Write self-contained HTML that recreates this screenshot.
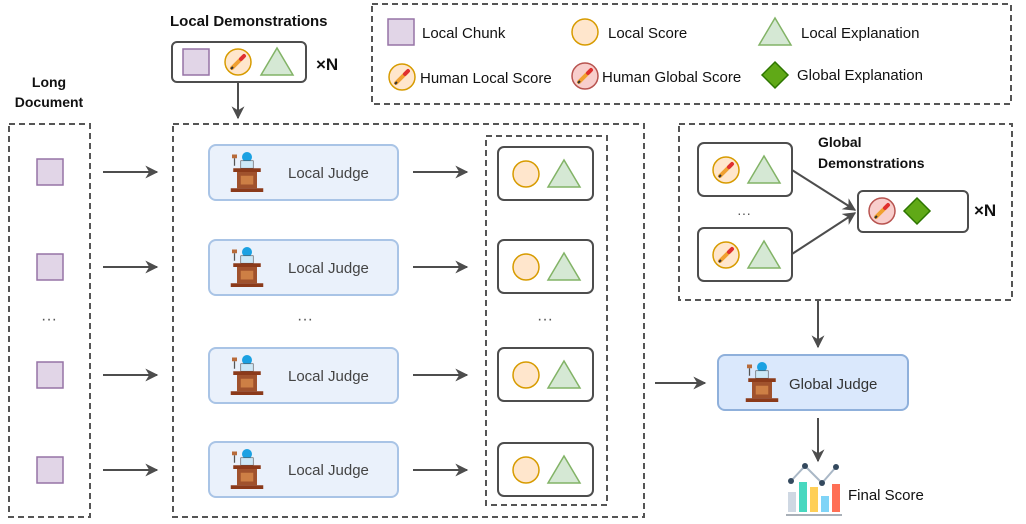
<!DOCTYPE html>
<html><head><meta charset="utf-8"><style>
html,body{margin:0;padding:0;background:#fff;width:1026px;height:524px;overflow:hidden}
text{font-family:"Liberation Sans",sans-serif}
</style></head><body>
<svg width="1026" height="524" viewBox="0 0 1026 524" xmlns="http://www.w3.org/2000/svg">
<defs>
<marker id="ah" viewBox="0 0 10 10" refX="9" refY="5" markerWidth="13" markerHeight="13" orient="auto-start-reverse" markerUnits="userSpaceOnUse"><path d="M0,0 L10,5 L0,10 L3,5 z" fill="#4d4d4d"/></marker>
<g id="sq"><rect x="-13" y="-13" width="26" height="26" fill="#e1d5e7" stroke="#9673a6" stroke-width="1.5"/></g>
<g id="ci"><circle r="13" fill="#ffe6cc" stroke="#d79b00" stroke-width="1.5"/></g>
<g id="tr"><path d="M-16,13 L0,-14 L16,13 Z" fill="#d5e8d4" stroke="#82b366" stroke-width="1.5"/></g>
<g id="pen"><line x1="-6" y1="6" x2="5" y2="-5" stroke="#f0a030" stroke-width="4" stroke-linecap="round"/><line x1="3" y1="-3" x2="6" y2="-6" stroke="#e03030" stroke-width="4" stroke-linecap="round"/><line x1="-7" y1="7" x2="-5" y2="5" stroke="#333" stroke-width="2"/></g>
<g id="hl"><circle r="13" fill="#ffe6cc" stroke="#d79b00" stroke-width="1.5"/><use href="#pen"/></g>
<g id="hg"><circle r="13" fill="#f8cecc" stroke="#b85450" stroke-width="1.5"/><use href="#pen"/></g>
<g id="di"><path d="M0,-13 L13,0 L0,13 L-13,0 Z" fill="#60a917" stroke="#2d7600" stroke-width="1.5"/></g>
<g id="judge0"><rect x="-4" y="-16" width="8" height="8" rx="4" fill="#1ba1e2"/><rect x="-5" y="-9" width="10" height="6" fill="#cde8f6" stroke="#555" stroke-width=".5"/><rect x="-12" y="-14" width="4" height="3" fill="#b86b3a"/><line x1="-10" y1="-11" x2="-10" y2="-5" stroke="#555"/><rect x="-11" y="-3" width="22" height="3" fill="#8b3a1a"/><rect x="-8" y="0" width="16" height="13" fill="#a0522d"/><rect x="-5" y="3" width="10" height="7" fill="#cd7f45"/><rect x="-13" y="13" width="26" height="3" fill="#8b3a1a"/></g>
<g id="judge"><g transform="scale(1.25)"><use href="#judge0"/></g></g>
<g id="lj"><rect x="0" y="0" width="189" height="55" rx="7" fill="#eaf1fb" stroke="#a9c4e6" stroke-width="2"/><use href="#judge" x="38" y="27"/><text x="79" y="33" font-size="15" fill="#444">Local Judge</text></g>
<g id="res"><rect x="0" y="0" width="95" height="53" rx="6" fill="#fff" stroke="#4d4d4d" stroke-width="2"/><use href="#ci" x="28" y="27"/><use href="#tr" x="66" y="27"/></g>
<g id="gd"><rect x="0" y="0" width="94" height="53" rx="6" fill="#fff" stroke="#4d4d4d" stroke-width="2"/><use href="#hl" x="28" y="27"/><use href="#tr" x="66" y="27"/></g>
</defs>

<rect x="372" y="4" width="639" height="100" fill="none" stroke="#555" stroke-width="2" stroke-dasharray="6,4"/>
<use href="#sq" x="401" y="32"/><text x="422" y="38" font-size="15" fill="#111">Local Chunk</text>
<use href="#ci" x="585" y="32"/><text x="608" y="38" font-size="15" fill="#111">Local Score</text>
<use href="#tr" x="775" y="32"/><text x="801" y="38" font-size="15" fill="#111">Local Explanation</text>
<use href="#hl" x="402" y="77"/><text x="420" y="83" font-size="15" fill="#111">Human Local Score</text>
<use href="#hg" x="585" y="76"/><text x="602" y="82" font-size="15" fill="#111">Human Global Score</text>
<use href="#di" x="775" y="75"/><text x="797" y="80" font-size="15" fill="#111">Global Explanation</text>

<text x="170" y="26" font-size="15" font-weight="bold" fill="#111">Local Demonstrations</text>
<rect x="172" y="42" width="134" height="40" rx="5" fill="#fff" stroke="#4d4d4d" stroke-width="2"/>
<use href="#sq" x="196" y="62"/><use href="#hl" x="238" y="62"/><use href="#tr" x="277" y="62"/>
<text x="316" y="70" font-size="17" font-weight="bold" fill="#111">×N</text>
<line x1="238" y1="82" x2="238" y2="118" stroke="#4d4d4d" stroke-width="2" marker-end="url(#ah)"/>

<text x="49" y="87" font-size="14" font-weight="bold" fill="#111" text-anchor="middle">Long</text>
<text x="49" y="107" font-size="14" font-weight="bold" fill="#111" text-anchor="middle">Document</text>
<rect x="9" y="124" width="81" height="393" fill="none" stroke="#555" stroke-width="2" stroke-dasharray="6,4"/>
<use href="#sq" x="50" y="172"/><use href="#sq" x="50" y="267"/><use href="#sq" x="50" y="375"/><use href="#sq" x="50" y="470"/>
<text x="49" y="324" font-size="16" fill="#555" text-anchor="middle">···</text>

<g stroke="#4d4d4d" stroke-width="2" marker-end="url(#ah)">
<line x1="103" y1="172" x2="157" y2="172"/><line x1="103" y1="267" x2="157" y2="267"/>
<line x1="103" y1="375" x2="157" y2="375"/><line x1="103" y1="470" x2="157" y2="470"/>
<line x1="413" y1="172" x2="467" y2="172"/><line x1="413" y1="267" x2="467" y2="267"/>
<line x1="413" y1="375" x2="467" y2="375"/><line x1="413" y1="470" x2="467" y2="470"/>
<line x1="655" y1="383" x2="705" y2="383"/>
<line x1="818" y1="301" x2="818" y2="347"/>
<line x1="818" y1="418" x2="818" y2="461"/>
<line x1="792" y1="170" x2="855" y2="210"/>
<line x1="792" y1="254" x2="855" y2="213"/>
</g>

<rect x="173" y="124" width="471" height="393" fill="none" stroke="#555" stroke-width="2" stroke-dasharray="6,4"/>
<use href="#lj" x="209" y="145"/><use href="#lj" x="209" y="240"/><use href="#lj" x="209" y="348"/><use href="#lj" x="209" y="442"/>
<text x="305" y="324" font-size="16" fill="#555" text-anchor="middle">···</text>
<rect x="486" y="136" width="121" height="369" fill="none" stroke="#555" stroke-width="2" stroke-dasharray="6,4"/>
<use href="#res" x="498" y="147"/><use href="#res" x="498" y="240"/><use href="#res" x="498" y="348"/><use href="#res" x="498" y="443"/>
<text x="545" y="324" font-size="16" fill="#555" text-anchor="middle">···</text>

<rect x="679" y="124" width="333" height="176" fill="none" stroke="#555" stroke-width="2" stroke-dasharray="6,4"/>
<text x="818" y="147" font-size="14" font-weight="bold" fill="#111">Global</text>
<text x="818" y="168" font-size="14" font-weight="bold" fill="#111">Demonstrations</text>
<use href="#gd" x="698" y="143"/><use href="#gd" x="698" y="228"/>
<text x="744" y="218" font-size="14" fill="#555" text-anchor="middle">···</text>
<rect x="858" y="191" width="110" height="41" rx="5" fill="#fff" stroke="#4d4d4d" stroke-width="2"/>
<use href="#hg" x="882" y="211"/><use href="#di" x="917" y="211"/>
<text x="974" y="216" font-size="17" font-weight="bold" fill="#111">×N</text>

<rect x="718" y="355" width="190" height="55" rx="7" fill="#dae8fc" stroke="#8fb0db" stroke-width="2"/>
<use href="#judge" x="762" y="382"/>
<text x="789" y="389" font-size="15" fill="#333">Global Judge</text>

<g>
<polyline points="791,481 805,466 822,483 836,467" fill="none" stroke="#a9b7c6" stroke-width="2"/>
<circle cx="791" cy="481" r="3" fill="#34495e"/><circle cx="805" cy="466" r="3" fill="#34495e"/><circle cx="822" cy="483" r="3" fill="#34495e"/><circle cx="836" cy="467" r="3" fill="#34495e"/>
<rect x="788" y="492" width="8" height="20" fill="#cfd8e3"/>
<rect x="799" y="482" width="8" height="30" fill="#48d8c0"/>
<rect x="810" y="487" width="8" height="25" fill="#ffcf57"/>
<rect x="821" y="496" width="8" height="16" fill="#7fd4f7"/>
<rect x="832" y="484" width="8" height="28" fill="#ff6f55"/>
<rect x="786" y="514" width="56" height="2" fill="#a9b0b8"/>
</g>
<text x="848" y="500" font-size="15" fill="#111">Final Score</text>
</svg>
</body></html>
